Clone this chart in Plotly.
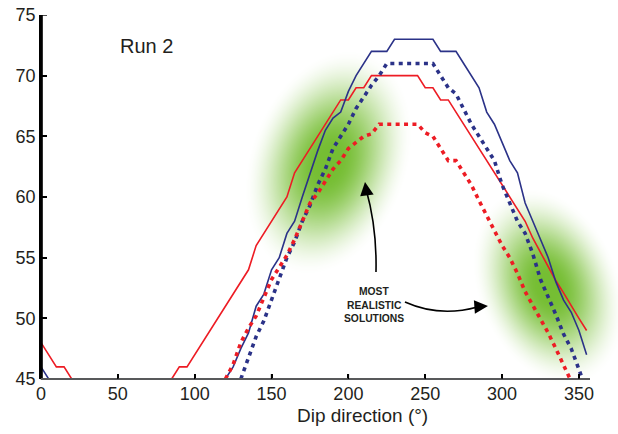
import base64, struct, zlib
import numpy as np
import plotly.graph_objects as go

# ---------------- data ----------------
dip_red_solid = list(range(0, 360, 5))
red_solid = [48, 47, 46, 46, 45, 44, 44, 44, 44, 44, 44, 44, 44, 44, 44, 44, 44, 45,
             46, 46, 47, 48, 49, 50, 51, 52, 53, 54, 56, 57, 58, 59, 60, 62, 63, 64,
             65, 66, 67, 68, 68, 69, 69, 70, 70, 70, 70, 70, 70, 70, 69, 69, 68, 68,
             67, 66, 65, 64, 63, 62, 61, 60, 59, 58, 56.6, 55.4, 54.2, 53.1, 52.1, 51, 50, 49]

dip_blue_solid = list(range(0, 360, 5))
blue_solid = [46, 45, 44, 44, 44, 44, 44, 44, 44, 44, 44, 44, 44, 44, 44, 44, 44, 44,
              44, 44, 44, 44, 44, 44, 45, 46, 47.5, 48.8, 51, 52, 54, 55, 57, 58, 60, 62,
              63.8, 65.5, 66.5, 67, 68.7, 70, 71, 72, 72, 72, 73, 73, 73, 73, 73, 73, 72, 72,
              72, 71, 70, 69, 67, 66, 64.5, 63, 62, 59.5, 58, 56.5, 55, 53, 51.5, 50.5, 49, 47]

dip_blue_dot = list(range(130, 360, 5))
blue_dot = [45, 46.8, 48.5, 49.8, 51.5, 53.2, 55, 56.3, 58, 59.3, 61, 62.3, 64, 65,
            66, 67.3, 68.3, 69.2, 70, 71, 71, 71, 71, 71, 71, 71, 70, 69, 68.5, 67.3,
            66, 65, 64, 63, 61, 59.5, 58, 57, 55.3, 53.2, 51.8, 50.3, 48.7, 47.5, 45.8, 44]

dip_red_dot = list(range(120, 355, 5))
red_dot = [45, 46.2, 48, 49.2, 50.2, 51.8, 53.2, 54.2, 55.2, 56.5, 58, 59.5, 60.3, 61.3,
           62.3, 63, 64, 64.5, 65, 65.2, 66, 66, 66, 66, 66, 66, 65.3, 65, 64, 63, 63,
           62, 61, 59.7, 58.5, 57.3, 56, 55, 53.7, 52.2, 51.1, 50, 48.8, 47.5, 46.2, 44.8, 43]

x_ticks = [0, 50, 100, 150, 200, 250, 300, 350]
y_ticks = [45, 50, 55, 60, 65, 70, 75]

RED = "#ed1c24"
BLUE = "#2b3288"
TXT = "#231f20"

# ---------------- soft green blobs (decoration) ----------------
def png_uri(rgba):
    h, w, _ = rgba.shape
    raw = b"".join(b"\x00" + rgba[i].tobytes() for i in range(h))
    def chunk(t, d):
        c = struct.pack(">I", len(d)) + t + d
        return c + struct.pack(">I", zlib.crc32(t + d) & 0xffffffff)
    png = b"\x89PNG\r\n\x1a\n" + chunk(b"IHDR", struct.pack(">IIBBBBB", w, h, 8, 6, 0, 0, 0)) \
        + chunk(b"IDAT", zlib.compress(raw, 9)) + chunk(b"IEND", b"")
    return "data:image/png;base64," + base64.b64encode(png).decode()

def blob(size, a, b, ang_deg):
    yy, xx = np.mgrid[0:size, 0:size].astype(float)
    dx = xx - size / 2
    dy = yy - size / 2
    t = np.radians(ang_deg)
    u = dx * np.cos(t) + dy * np.sin(t)
    v = -dx * np.sin(t) + dy * np.cos(t)
    r = np.sqrt((u / a) ** 2 + (v / b) ** 2)
    s = np.clip((r - 0.12) / (1.0 - 0.12), 0, 1)
    s = s * s * (3 - 2 * s)
    alpha = 0.95 * (1 - s)
    img = np.zeros((size, size, 4), dtype=np.uint8)
    img[..., 0] = 110
    img[..., 1] = 186
    img[..., 2] = 40
    img[..., 3] = (alpha * 255).astype(np.uint8)
    return png_uri(img)

# plot area in pixels: left 41, right 590, top 15, bottom 379
PL, PR, PT, PB = 41, 590, 15, 379
def px2paper(px, py):
    return (px - PL) / (PR - PL), (PB - py) / (PB - PT)

S = 320
images = []
for (cx, cy, a, b, ang) in [(328, 162, 80, 118, 20), (548, 286, 72, 104, -22)]:
    x0, y0 = px2paper(cx - S / 2, cy - S / 2)
    images.append(dict(source=blob(S, a, b, ang), xref="paper", yref="paper",
                       x=x0, y=y0, sizex=S / (PR - PL), sizey=S / (PB - PT),
                       xanchor="left", yanchor="top", sizing="stretch", layer="below"))

# ---------------- figure ----------------
fig = go.Figure()
fig.add_trace(go.Scatter(x=dip_red_solid, y=red_solid, mode="lines",
                         line=dict(color=RED, width=1.6)))
fig.add_trace(go.Scatter(x=dip_blue_solid, y=blue_solid, mode="lines",
                         line=dict(color=BLUE, width=1.6)))
fig.add_trace(go.Scatter(x=dip_blue_dot, y=blue_dot, mode="lines",
                         line=dict(color=BLUE, width=3.6, dash="4px,4.4px")))
fig.add_trace(go.Scatter(x=dip_red_dot, y=red_dot, mode="lines",
                         line=dict(color=RED, width=3.6, dash="4px,4.4px")))

shapes = [
    # axis lines
    dict(type="line", xref="paper", yref="paper", x0=0.0015, x1=0.0015, y0=-0.003, y1=1,
         line=dict(color="#000000", width=2), layer="above"),
    dict(type="line", xref="paper", yref="paper", x0=0, x1=1, y0=0, y1=0,
         line=dict(color="#58595b", width=2.2), layer="above"),
    # curved arrow bodies
    dict(type="path", xref="x", yref="y",
         path="M217.96,53.82 Q218.6,57.45 211.6,60.6",
         line=dict(color="black", width=1.6)),
    dict(type="path", xref="x", yref="y",
         path="M236.8,51.35 Q259.3,50.07 284.0,50.94",
         line=dict(color="black", width=1.6)),
]
# inward tick marks (positions from the tick arrays, length in pixels)
for xv in x_ticks[1:]:
    shapes.append(dict(type="line", xref="x", yref="y", ysizemode="pixel", yanchor=45,
                       x0=xv, x1=xv, y0=0, y1=5, line=dict(color="black", width=1.4),
                       layer="above"))
for yv in y_ticks[1:]:
    shapes.append(dict(type="line", xref="x", yref="y", xsizemode="pixel", xanchor=0,
                       x0=0, x1=6, y0=yv, y1=yv, line=dict(color="black", width=1.4),
                       layer="above"))

annotations = [
    dict(x=210.8, y=61.24, xref="x", yref="y", ax=2, ay=14, text="", showarrow=True,
         arrowhead=2, arrowsize=1.7, arrowwidth=1.6, arrowcolor="black", standoff=0),
    dict(x=290.8, y=51.02, xref="x", yref="y", ax=-14, ay=1, text="", showarrow=True,
         arrowhead=2, arrowsize=1.7, arrowwidth=1.6, arrowcolor="black", standoff=0),
    dict(x=0.193, y=0.915, xref="paper", yref="paper", text="Run 2", showarrow=False,
         font=dict(family="Liberation Sans, Arial", size=20, color=TXT),
         xanchor="center", yanchor="middle"),
    dict(x=0.6066, y=(379 - 291.7) / 364, xref="paper", yref="paper", text="<b>MOST</b>",
         showarrow=False, font=dict(family="Liberation Sans, Arial", size=10.3, color=TXT),
         xanchor="center", yanchor="middle"),
    dict(x=0.6066, y=(379 - 305) / 364, xref="paper", yref="paper", text="<b>REALISTIC</b>",
         showarrow=False, font=dict(family="Liberation Sans, Arial", size=10.3, color=TXT),
         xanchor="center", yanchor="middle"),
    dict(x=0.6066, y=(379 - 318.7) / 364, xref="paper", yref="paper", text="<b>SOLUTIONS</b>",
         showarrow=False, font=dict(family="Liberation Sans, Arial", size=10.3, color=TXT),
         xanchor="center", yanchor="middle"),
    dict(x=0.585, y=-0.1016, xref="paper", yref="paper", text="Dip direction (°)",
         showarrow=False, font=dict(family="Liberation Sans, Arial", size=19, color=TXT),
         xanchor="center", yanchor="middle"),
]

fig.update_layout(
    width=618, height=434,
    margin=dict(l=PL, r=618 - PR, t=PT, b=434 - PB, pad=0, autoexpand=False),
    paper_bgcolor="white", plot_bgcolor="rgba(0,0,0,0)",
    showlegend=False,
    images=images, shapes=shapes, annotations=annotations,
    font=dict(family="Liberation Sans, Arial", size=18, color=TXT),
)
fig.update_xaxes(range=[0, 357.2], tickvals=x_ticks, ticks="inside", ticklen=5,
                 tickwidth=1.5, tickcolor="black", showline=False,
                 showgrid=False, zeroline=False, ticklabelstandoff=2, automargin=False,
                 tickfont=dict(size=18, color=TXT))
fig.update_yaxes(range=[45, 75], tickvals=y_ticks, ticks="inside", ticklen=6,
                 tickwidth=1.5, tickcolor="black", showline=True, linecolor="black",
                 linewidth=1.6, showgrid=False, zeroline=False, ticklabelstandoff=0,
                 automargin=False, tickfont=dict(size=18, color=TXT))

fig.write_html("out.html")
